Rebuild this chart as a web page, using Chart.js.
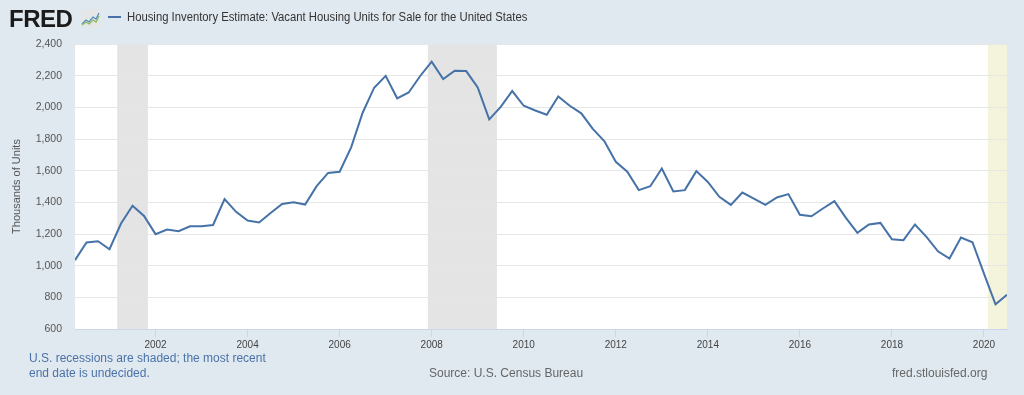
<!DOCTYPE html>
<html>
<head>
<meta charset="utf-8">
<script src="https://cdn.jsdelivr.net/npm/chart.js@4"></script>
<style>
  html, body { margin: 0; padding: 0; }
  body { width: 1024px; height: 395px; background: #e1e9f0; position: relative; overflow: hidden;
         font-family: "Liberation Sans", Arial, sans-serif; }
  #wrap { position: absolute; left: 0; top: 0; width: 1024px; height: 395px; }
  .txt { position: absolute; white-space: nowrap; }
  #logo { left: 9px; top: 7px; font-size: 24px; line-height: 24px; font-weight: bold; color: #1b1b1b; letter-spacing: -0.5px; }
  #icon { position: absolute; left: 81px; top: 10px; }
  #legline { position: absolute; left: 108px; top: 16px; width: 13px; height: 2px; background: #4572a7; }
  #title { left: 127px; top: 10px; font-size: 12px; line-height: 14px; color: #333; transform-origin: 0 0; }
  #note { left: 29px; top: 351px; font-size: 12px; line-height: 15px; color: #4a72a8; }
  #source { left: 429px; top: 366px; font-size: 12px; line-height: 15px; color: #666; }
  #site { left: 892px; top: 366px; font-size: 12px; line-height: 15px; color: #666; }
</style>
</head>
<body>
<div id="wrap"><canvas id="myChart"></canvas></div>
<div class="txt" id="logo">FRED</div>
<svg id="icon" width="19" height="17" viewBox="0 0 19 17">
  <rect x="0" y="0" width="19" height="17" rx="2" fill="#e6e6e6"/>
  <polyline points="1,14 5,10 8,12 12,7 15,9 18,3" fill="none" stroke="#4f8fc0" stroke-width="1.3"/>
  <polyline points="1,15 5,12 8,14 12,10 15,12 18,6" fill="none" stroke="#8cb860" stroke-width="1.3"/>
</svg>
<div id="legline"></div>
<div class="txt" id="title">Housing Inventory Estimate: Vacant Housing Units for Sale for the United States</div>
<div class="txt" id="note">U.S. recessions are shaded; the most recent<br>end date is undecided.</div>
<div class="txt" id="source">Source: U.S. Census Bureau</div>
<div class="txt" id="site">fred.stlouisfed.org</div>
<script>
// quarterly observations, 2000 Q2 .. 2020 Q3
var firstYear = 2000, firstQuarter = 2;
var vacantForSale = [
  1035, 1146, 1154, 1104, 1266, 1378, 1314, 1199, 1228, 1218,
  1249, 1249, 1257, 1420, 1340, 1285, 1273, 1333, 1390, 1401,
  1386, 1502, 1586, 1593, 1747, 1966, 2124, 2199, 2057, 2094,
  2198, 2288, 2179, 2231, 2229, 2126, 1924, 2003, 2103, 2010,
  1980, 1953, 2069, 2010, 1962, 1864, 1787, 1656, 1593, 1477,
  1502, 1614, 1469, 1477, 1597, 1529, 1435, 1384, 1462, 1424,
  1384, 1431, 1452, 1321, 1312, 1361, 1407, 1302, 1207, 1260,
  1270, 1167, 1161, 1260, 1182, 1091, 1045, 1178, 1148, 950,
  756, 817
];
var yearTicks = [2002, 2004, 2006, 2008, 2010, 2012, 2014, 2016, 2018, 2020];
// recession periods in decimal years (start, end); null end = undecided
var recessions = [[2001 + 2/12, 2001 + 10/12], [2007 + 11/12, 2009 + 5/12], [2020 + 1/12, null]];

var quarters = [];
for (var i = 0; i < vacantForSale.length; i++) {
  var q = firstQuarter - 1 + i;
  quarters.push(firstYear + Math.floor(q / 4) + (q % 4) / 4);
}
var points = quarters.map(function (x, i) { return { x: x, y: vacantForSale[i] }; });

var plotBg = {
  id: 'plotBg',
  beforeDraw: function (chart) {
    var a = chart.chartArea, c = chart.ctx, xs = chart.scales.x;
    c.save();
    c.fillStyle = '#ffffff';
    c.fillRect(a.left, a.top, a.right - a.left, a.bottom - a.top);
    recessions.forEach(function (r) {
      var x0 = Math.max(xs.getPixelForValue(r[0]), a.left);
      var x1 = r[1] === null ? a.right : Math.min(xs.getPixelForValue(r[1]), a.right);
      c.fillStyle = r[1] === null ? '#f4f4dc' : '#e4e4e4';
      c.fillRect(x0, a.top, x1 - x0, a.bottom - a.top);
    });
    c.restore();
  }
};

var ctx = document.getElementById('myChart').getContext('2d');
var myChart = new Chart(ctx, {
  type: 'line',
  data: {
    datasets: [{
      data: points,
      borderColor: '#4572a7',
      borderWidth: 2,
      pointRadius: 0,
      tension: 0,
      fill: false
    }]
  },
  options: {
    responsive: true,
    maintainAspectRatio: false,
    animation: false,
    layout: { padding: { top: 44, right: 17, bottom: 0, left: 0 } },
    plugins: { legend: { display: false }, tooltip: { enabled: false } },
    scales: {
      x: {
        type: 'linear',
        min: quarters[0],
        max: quarters[quarters.length - 1],
        afterBuildTicks: function (s) { s.ticks = yearTicks.map(function (v) { return { value: v }; }); },
        afterFit: function (s) { s.height = 66; },
        grid: { drawOnChartArea: false, drawTicks: true, tickLength: 8, color: '#ccd6eb' },
        border: { display: true, color: '#ccd6eb' },
        ticks: {
          autoSkip: false, maxRotation: 0, padding: 2,
          color: '#444', font: { family: 'Liberation Sans', size: 10 },
          callback: function (v) { return String(v); }
        }
      },
      y: {
        min: 600,
        max: 2400,
        afterFit: function (s) { s.width = 75; },
        grid: { color: '#e6e6e6', drawTicks: false },
        border: { display: false },
        ticks: {
          stepSize: 200, padding: 13,
          color: '#555', font: { family: 'Liberation Sans', size: 10.5 }
        },
        title: {
          display: true, text: 'Thousands of Units', color: '#555',
          font: { family: 'Liberation Sans', size: 11 }, padding: { top: 10, bottom: 0 }
        }
      }
    }
  },
  plugins: [plotBg]
});

// squeeze header text to the width it takes in the original
var t = document.getElementById('title');
t.style.transform = 'scaleX(' + (400 / t.offsetWidth) + ')';
</script>
</body>
</html>
